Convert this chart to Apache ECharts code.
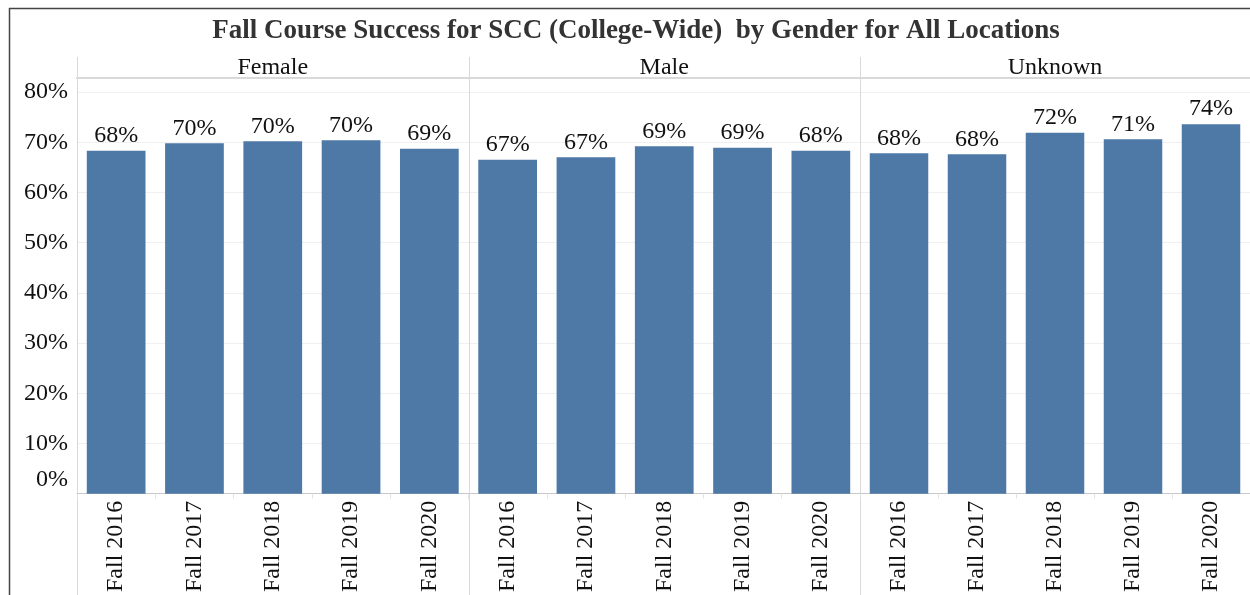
<!DOCTYPE html>
<html>
<head>
<meta charset="utf-8">
<script src="https://cdn.jsdelivr.net/npm/echarts@6/dist/echarts.min.js"></script>
<style>
  html, body { margin: 0; padding: 0; background: #fff; }
  #chart { width: 1250px; height: 595px; }
</style>
</head>
<body>
<div id="chart"></div>
<script>
const terms = ['Fall 2016', 'Fall 2017', 'Fall 2018', 'Fall 2019', 'Fall 2020']
const genders = ['Female', 'Male', 'Unknown']
const femaleRates = [68.3, 69.8, 70.2, 70.4, 68.7]
const maleRates = [66.5, 67.0, 69.2, 68.9, 68.3]
const unknownRates = [67.8, 67.6, 71.9, 70.6, 73.6]
const yTicks = [0, 10, 20, 30, 40, 50, 60, 70, 80]

const seriesValues = [femaleRates, maleRates, unknownRates]

const chart = echarts.init(document.getElementById('chart'))

const font = '"Liberation Serif", "Times New Roman", serif'
const barColor = '#4e79a7'
const panelLeft = 77
const panelWidth = 391.5
const gridTop = 78
const gridBottom = 100 // axis sits at y=495
const yMax = 82.8

const grids = genders.map((g, i) => ({
  left: panelLeft + i * panelWidth,
  width: panelWidth,
  top: gridTop,
  bottom: gridBottom,
}))

const xAxes = []
genders.forEach((g, i) => {
  xAxes.push({
    type: 'category',
    gridIndex: i,
    data: terms,
    axisLine: { lineStyle: { color: '#c8c8c8', width: 1 } },
    axisTick: { show: true, length: 5, lineStyle: { color: '#e2e2e2' } },
    axisLabel: {
      rotate: 90,
      margin: 7,
      color: '#111',
      fontFamily: font,
      fontSize: 24,
    },
  })
})
// panel headers
genders.forEach((g, i) => {
  xAxes.push({
    type: 'category',
    gridIndex: i,
    position: 'top',
    data: [g],
    axisLine: { show: true, lineStyle: { color: '#d9d9d9', width: 2 } },
    axisTick: { show: false },
    axisLabel: { margin: -2, color: '#111', fontFamily: font, fontSize: 24 },
  })
})

const yAxes = genders.map((g, i) => ({
  type: 'value',
  gridIndex: i,
  min: 0,
  max: yMax,
  interval: 10,
  axisLine: { show: false },
  axisTick: { show: false },
  splitLine: {
    lineStyle: { color: '#f0f0f0', width: 1 },
  },
  axisLabel: {
    show: i === 0,
    showMaxLabel: false,
    margin: 9,
    color: '#111',
    fontFamily: font,
    fontSize: 24,
    formatter: (v) => (v === 0 ? '{z|0%}' : yTicks.includes(v) ? v + '%' : ''),
    rich: {
      z: { fontFamily: font, fontSize: 24, color: '#111', padding: [0, 0, 28, 0] },
    },
  },
}))

const series = genders.map((g, i) => ({
  name: g,
  type: 'bar',
  xAxisIndex: i,
  yAxisIndex: i,
  data: seriesValues[i],
  barCategoryGap: '25%',
  itemStyle: { color: barColor },
  label: {
    show: true,
    position: 'top',
    distance: 3,
    color: '#111',
    fontFamily: font,
    fontSize: 24,
    formatter: (p) => Math.round(p.value) + '%',
  },
  silent: true,
}))

chart.setOption({
  animation: false,
  backgroundColor: '#fff',
  title: {
    text: 'Fall Course Success for SCC (College-Wide)  by Gender for All Locations',
    left: 631,
    textAlign: 'center',
    top: 13,
    textStyle: { fontFamily: font, fontSize: 27, fontWeight: 'bold', color: '#333' },
  },
  grid: grids,
  xAxis: xAxes,
  yAxis: yAxes,
  series,
})

// frame and panel separators, placed from the grid layout
const seps = grids.map((g) => ({
  type: 'line',
  shape: { x1: Math.round(g.left) + 0.5, y1: 57, x2: Math.round(g.left) + 0.5, y2: 595 },
  style: { stroke: '#d9d9d9', lineWidth: 1 },
  silent: true,
}))
chart.setOption({
  graphic: [
    ...seps,
    { type: 'line', shape: { x1: 9, y1: 8.5, x2: 1250, y2: 8.5 }, style: { stroke: '#444', lineWidth: 1.5 }, silent: true },
    { type: 'line', shape: { x1: 9.5, y1: 8, x2: 9.5, y2: 595 }, style: { stroke: '#444', lineWidth: 1.5 }, silent: true },
  ],
})
</script>
</body>
</html>
